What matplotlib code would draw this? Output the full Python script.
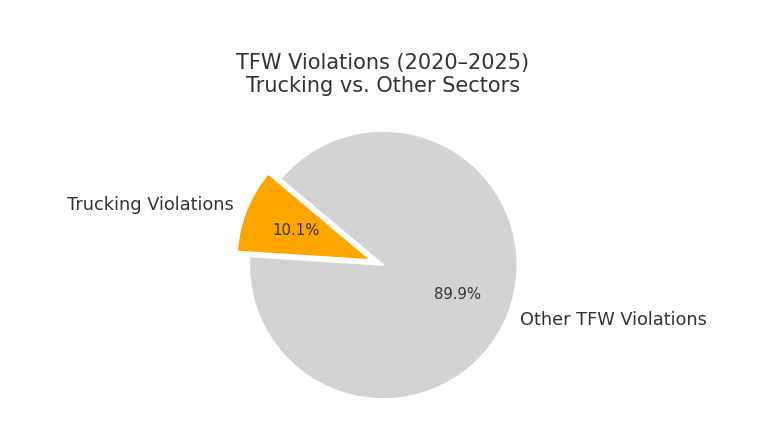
import matplotlib.pyplot as plt

# 데이터
labels = ["Trucking Violations", "Other TFW Violations"]
shares = [10.1, 89.9]
colors = ["orange", "lightgray"]
explode = [0.1, 0]

plt.rcParams["font.family"] = "DejaVu Sans"
plt.rcParams["text.color"] = "#333333"

fig = plt.figure(figsize=(7.81, 4.26), dpi=100)
ax = fig.add_axes([0.083, 0.032, 0.8, 0.692])
ax.pie(shares, labels=labels, colors=colors, explode=explode,
       autopct="%1.1f%%", startangle=140,
       wedgeprops={"edgecolor": "white", "linewidth": 1.2},
       textprops={"fontsize": 12.8, "color": "#333333"})
for t in ax.texts:
    if t.get_text().endswith("%"):
        t.set_fontsize(10.7)
ax.axis("equal")
fig.suptitle("TFW Violations (2020–2025)\nTrucking vs. Other Sectors",
             fontsize=15, color="#333333", x=0.49, y=0.875)
fig.savefig("out.png", dpi=100)
